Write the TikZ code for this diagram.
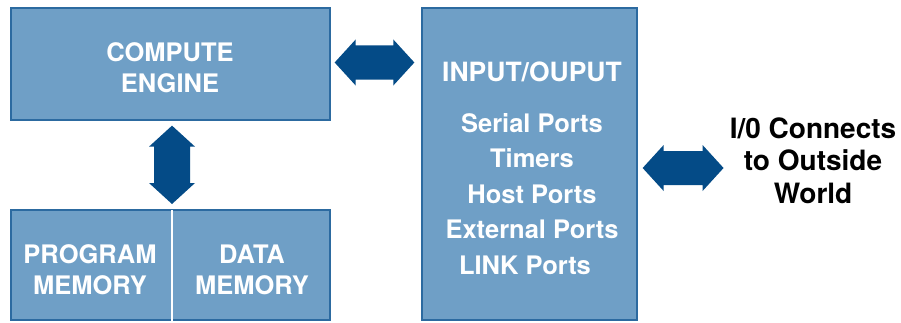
\documentclass[tikz,border=0pt]{standalone}
\usepackage{fontspec}
\setmainfont{TeX Gyre Heros}
\usetikzlibrary{calc}
\definecolor{boxfill}{RGB}{111,159,198}
\definecolor{boxline}{RGB}{44,106,160}
\definecolor{arrowc}{RGB}{4,75,135}
\newcommand\hfatarrow[2]{%
  \fill[arrowc] let \p1=#1, \p2=#2 in
  (\x1,\y1) -- (\x1+21pt,\y1+23pt) -- (\x1+21pt,\y1+17pt) -- (\x2-21pt,\y1+17pt) --
  (\x2-21pt,\y1+23pt) -- (\x2,\y1) -- (\x2-21pt,\y1-23pt) -- (\x2-21pt,\y1-17pt) --
  (\x1+21pt,\y1-17pt) -- (\x1+21pt,\y1-23pt) -- cycle;}
\newcommand\vfatarrow[2]{%
  \fill[arrowc] let \p1=#1, \p2=#2 in
  (\x1,\y1) -- (\x1-23pt,\y1+21pt) -- (\x1-18pt,\y1+21pt) -- (\x1-18pt,\y2-21pt) --
  (\x1-23pt,\y2-21pt) -- (\x1,\y2) -- (\x1+23pt,\y2-21pt) -- (\x1+18pt,\y2-21pt) --
  (\x1+18pt,\y1+21pt) -- (\x1+23pt,\y1+21pt) -- cycle;}
\tikzset{
  blockbox/.style={draw=boxline, fill=boxfill, line width=1.3pt, inner sep=0pt},
  wtext/.style={text=white, font=\bfseries\fontsize{25.5}{31}\selectfont, align=center, inner sep=0pt},
  ttext/.style={text=white, font=\bfseries\fontsize{26.5}{31}\selectfont, align=center, inner sep=0pt},
  ptext/.style={text=white, font=\bfseries\fontsize{25.5}{35.5}\selectfont, align=center, inner sep=0pt},
  btext/.style={text=black, font=\bfseries\fontsize{28}{32.5}\selectfont, align=center, inner sep=0pt}
}
\begin{document}
\begin{tikzpicture}[x=1pt,y=1pt]
\fill[white] (0,0) rectangle (901,322);
\useasboundingbox (0,0) rectangle (901,322);
% boxes
\node[blockbox, minimum width=319, minimum height=112] (ce) at (170.5,258) {};
\node[blockbox, minimum width=319, minimum height=110] (mem) at (170.5,57) {};
\node[blockbox, minimum width=215, minimum height=312] (io) at (529.5,158) {};
\coordinate (div) at (172,112);
\draw[white, line width=1.5pt] (div) -- (div |- mem.south);
% texts
\node[wtext] (cetext) at (170,254.5) {COMPUTE\\ENGINE};
\node[wtext] (pm) at (90,52) {PROGRAM\\MEMORY};
\node[wtext] (dm) at (252,52) {DATA\\MEMORY};
\node[ttext] (iotitle) at (532,250) {INPUT/OUPUT};
\node[ptext] (ports) at (532,128) {Serial Ports\\Timers\\Host Ports\\External Ports\\LINK Ports\hspace*{14pt}};
\node[btext] (world) at (813,161.5) {I/0 Connects\\to Outside\\World};
% arrows
\hfatarrow{($(ce.east)+(4,1.5)$)}{($(io.west)+(-7,0)$)}
\vfatarrow{($(div)+(0,6)$)}{($(ce.south)+(0,-5)$)}
\hfatarrow{($(io.east)+(5,-4)$)}{($(world.west)+(-6,0)$)}
\end{tikzpicture}
\end{document}
